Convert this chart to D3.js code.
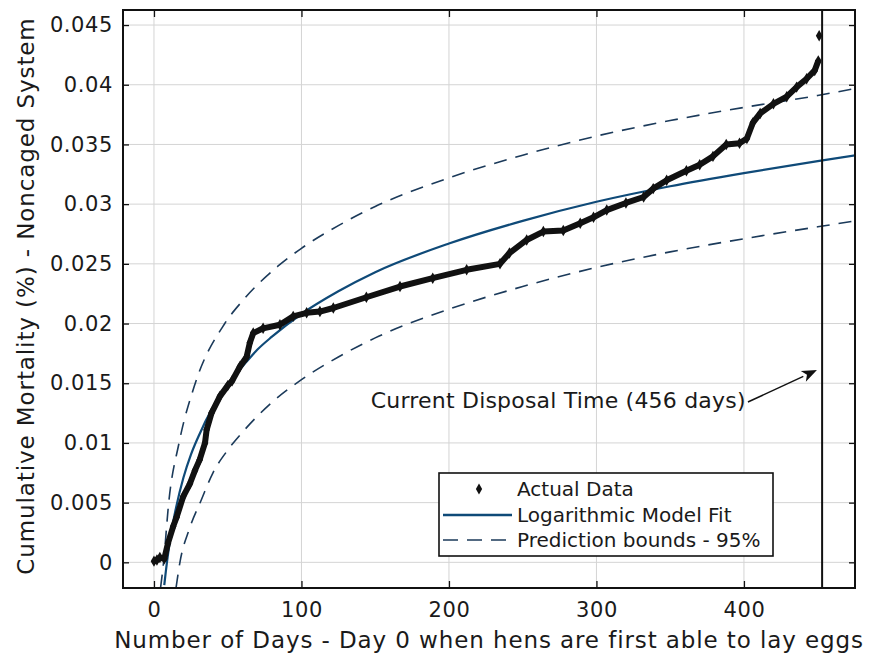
<!DOCTYPE html>
<html>
<head>
<meta charset="utf-8">
<script src="https://cdn.jsdelivr.net/npm/d3@7"></script>
<style>
  body { margin: 0; background: #fff; }
  svg text { font-family: 'DejaVu Sans', sans-serif; fill: #1a1a1a; }
</style>
</head>
<body>
<div id="chart"></div>
<script>
// cumulative mortality
const actualDays = [0, 2, 4, 7, 9.5, 13, 15.4, 19.8, 24.4, 27.8, 31, 34.6, 35.7, 39, 44.7, 50, 53, 58.3, 62.8, 65, 67.3, 74, 85.4, 94.4, 103.5, 112.5, 121.6, 144, 166.8, 189, 212, 234.6, 241, 252.7, 264, 277.5, 289, 298, 307, 320, 332, 338.5, 347.6, 361, 370, 379, 388, 397, 402, 406, 411, 420, 429, 435.7, 442.5, 448, 450.4, 451];
const actualVals = [0.0001, 0.0002, 0.0004, 0.0003, 0.0016, 0.003, 0.0038, 0.0055, 0.0066, 0.0077, 0.0086, 0.0100, 0.0111, 0.0125, 0.0139, 0.0148, 0.0152, 0.0164, 0.0172, 0.0184, 0.0192, 0.0196, 0.0199, 0.0206, 0.0209, 0.0210, 0.0213, 0.0222, 0.0231, 0.0238, 0.0245, 0.0250, 0.0259, 0.0270, 0.0277, 0.0278, 0.0284, 0.0289, 0.0295, 0.0301, 0.0306, 0.0313, 0.0320, 0.0328, 0.0333, 0.0340, 0.0350, 0.0351, 0.0355, 0.0368, 0.0376, 0.0384, 0.0390, 0.0398, 0.0405, 0.0412, 0.0420, 0.0441];

const fitDays = [7, 8, 10, 12, 15, 20, 25, 30, 40, 50, 60, 70, 80, 100, 125, 150, 200, 250, 300, 350, 400, 450, 476];
const fitVals = [-0.0019, -0.0008, 0.0011, 0.0027, 0.0046, 0.0071, 0.0090, 0.0105, 0.0130, 0.0149, 0.0164, 0.0178, 0.0189, 0.0208, 0.0227, 0.0243, 0.0267, 0.0286, 0.0302, 0.0315, 0.0326, 0.0336, 0.0341];

const upperDays = [4.5, 6.5, 10, 17, 28, 48, 60, 84, 100, 125, 150, 200, 250, 300, 350, 400, 450, 476];
const upperVals = [-0.0021, 0.0, 0.0050, 0.0100, 0.0150, 0.0200, 0.0219, 0.0248, 0.0263, 0.0282, 0.0298, 0.0322, 0.0341, 0.0357, 0.0370, 0.0381, 0.0391, 0.0397];

const lowerDays = [15, 17.6, 24, 32, 40, 50, 60, 80, 100, 125, 150, 200, 250, 300, 350, 400, 450, 476];
const lowerVals = [-0.0021, 0.0, 0.0028, 0.0052, 0.0075, 0.0094, 0.0109, 0.0134, 0.0153, 0.0172, 0.0188, 0.0212, 0.0231, 0.0247, 0.0260, 0.0271, 0.0281, 0.0286];

const xTicks = [0, 100, 200, 300, 400];
const yTicks = [0, 0.005, 0.01, 0.015, 0.02, 0.025, 0.03, 0.035, 0.04, 0.045];
const disposalDay = 453;
const noteText = 'Current Disposal Time (456 days)';
const noteAt = [147, 0.0129];
const arrowFrom = [402.7, 0.01343];
const arrowTo = [449.5, 0.0161];
const legendItems = ['Actual Data', 'Logarithmic Model Fit', 'Prediction bounds - 95%'];

const W = 871, H = 661;
const margin = { top: 10, right: 16, bottom: 73, left: 123 };
const fitColor = '#0f4a78';
const boundColor = '#1b3a5a';

const svg = d3.select('#chart').append('svg')
  .attr('width', W).attr('height', H);

const x = d3.scaleLinear().domain([-21, 475.3]).range([margin.left, W - margin.right]);
const y = d3.scaleLinear().domain([-0.00215, 0.04626]).range([H - margin.bottom, margin.top]);

const zip = (a, b) => a.map((d, i) => [d, b[i]]);

svg.append('defs').append('clipPath').attr('id', 'plot')
  .append('rect')
  .attr('x', margin.left).attr('y', margin.top)
  .attr('width', W - margin.left - margin.right)
  .attr('height', H - margin.top - margin.bottom);

// grid
svg.append('g').selectAll('line').data(xTicks).join('line')
  .attr('x1', d => x(d)).attr('x2', d => x(d))
  .attr('y1', margin.top).attr('y2', H - margin.bottom)
  .attr('stroke', '#d4d4d4').attr('stroke-width', 1);
svg.append('g').selectAll('line').data(yTicks).join('line')
  .attr('y1', d => y(d)).attr('y2', d => y(d))
  .attr('x1', margin.left).attr('x2', W - margin.right)
  .attr('stroke', '#d4d4d4').attr('stroke-width', 1);

// axes (inward ticks on all four sides)
const axisB = svg.append('g').attr('transform', `translate(0,${H - margin.bottom})`)
  .call(d3.axisBottom(x).tickValues(xTicks).tickSize(-7).tickPadding(14).tickFormat(d3.format('d')));
const axisT = svg.append('g').attr('transform', `translate(0,${margin.top})`)
  .call(d3.axisTop(x).tickValues(xTicks).tickSize(-7).tickFormat(''));
const axisL = svg.append('g').attr('transform', `translate(${margin.left},0)`)
  .call(d3.axisLeft(y).tickValues(yTicks).tickSize(-6).tickPadding(10).tickFormat(d => d === 0 ? '0' : String(+d.toFixed(3))));
const axisR = svg.append('g').attr('transform', `translate(${W - margin.right},0)`)
  .call(d3.axisRight(y).tickValues(yTicks).tickSize(-6).tickFormat(''));

[axisB, axisT, axisL, axisR].forEach(g => {
  g.select('.domain').remove();
  g.selectAll('.tick line').attr('stroke', '#111').attr('stroke-width', 1.3);
  g.selectAll('text').attr('font-size', 21).attr('letter-spacing', 0.6)
    .attr('font-family', "'DejaVu Sans', sans-serif").attr('fill', '#1a1a1a');
});

const plot = svg.append('g').attr('clip-path', 'url(#plot)');

const line = d3.line().x(d => x(d[0])).y(d => y(d[1])).curve(d3.curveMonotoneX);

// prediction bounds
[zip(upperDays, upperVals), zip(lowerDays, lowerVals)].forEach(pts => {
  plot.append('path').datum(pts)
    .attr('d', line)
    .attr('fill', 'none')
    .attr('stroke', boundColor)
    .attr('stroke-width', 1.6)
    .attr('stroke-dasharray', '13,9');
});

// logarithmic fit
plot.append('path').datum(zip(fitDays, fitVals))
  .attr('d', line)
  .attr('fill', 'none')
  .attr('stroke', fitColor)
  .attr('stroke-width', 2.2);

// actual data: dense diamonds drawn as a heavy band
const actual = zip(actualDays, actualVals);
plot.append('path').datum(actual.slice(0, -1))
  .attr('d', d3.line().x(d => x(d[0])).y(d => y(d[1])))
  .attr('fill', 'none')
  .attr('stroke', '#111')
  .attr('stroke-width', 6)
  .attr('stroke-linejoin', 'round');
plot.selectAll('.pt').data(actual).join('path')
  .attr('class', 'pt')
  .attr('transform', d => `translate(${x(d[0])},${y(d[1])})`)
  .attr('d', d3.symbol(d3.symbolDiamond, 38))
  .attr('fill', '#111');

// disposal time marker
svg.append('line')
  .attr('x1', x(disposalDay)).attr('x2', x(disposalDay))
  .attr('y1', margin.top).attr('y2', H - margin.bottom)
  .attr('stroke', '#111').attr('stroke-width', 2);

// frame
svg.append('rect')
  .attr('x', margin.left).attr('y', margin.top)
  .attr('width', W - margin.left - margin.right)
  .attr('height', H - margin.top - margin.bottom)
  .attr('fill', 'none').attr('stroke', '#111').attr('stroke-width', 2);

// annotation
svg.append('text')
  .attr('x', x(noteAt[0])).attr('y', y(noteAt[1]))
  .attr('font-size', 22).attr('letter-spacing', 0.2)
  .text(noteText);

const ax1 = x(arrowFrom[0]), ay1 = y(arrowFrom[1]);
const ax2 = x(arrowTo[0]), ay2 = y(arrowTo[1]);
const ang = Math.atan2(ay2 - ay1, ax2 - ax1);
const headLen = 15, headW = 6;
const bx = ax2 - headLen * Math.cos(ang), by = ay2 - headLen * Math.sin(ang);
svg.append('line')
  .attr('x1', ax1).attr('y1', ay1).attr('x2', bx).attr('y2', by)
  .attr('stroke', '#111').attr('stroke-width', 1.5);
svg.append('path')
  .attr('d', `M${ax2},${ay2}L${bx - headW * Math.sin(ang)},${by + headW * Math.cos(ang)}L${bx + 4 * Math.cos(ang)},${by + 4 * Math.sin(ang)}L${bx + headW * Math.sin(ang)},${by - headW * Math.cos(ang)}Z`)
  .attr('fill', '#111');

// legend
const lg = svg.append('g').attr('transform', 'translate(439,473)');
lg.append('rect').attr('width', 334).attr('height', 83)
  .attr('fill', '#fff').attr('stroke', '#111').attr('stroke-width', 1.6);
const rowY = [16, 42, 67];
lg.append('path')
  .attr('transform', `translate(40,${rowY[0]})`)
  .attr('d', d3.symbol(d3.symbolDiamond, 34))
  .attr('fill', '#111');
lg.append('line').attr('x1', 4).attr('x2', 73).attr('y1', rowY[1]).attr('y2', rowY[1])
  .attr('stroke', fitColor).attr('stroke-width', 2.4);
lg.append('line').attr('x1', 4).attr('x2', 73).attr('y1', rowY[2]).attr('y2', rowY[2])
  .attr('stroke', boundColor).attr('stroke-width', 1.6).attr('stroke-dasharray', '15,9');
lg.selectAll('.lbl').data(legendItems).join('text')
  .attr('class', 'lbl')
  .attr('x', 78).attr('y', (d, i) => rowY[i] + 7)
  .attr('font-size', 20)
  .text(d => d);

// axis titles
svg.append('text')
  .attr('x', 489).attr('y', 648)
  .attr('text-anchor', 'middle').attr('font-size', 23).attr('letter-spacing', 0.9)
  .text('Number of Days - Day 0 when hens are first able to lay eggs');
svg.append('text')
  .attr('transform', 'translate(34,296) rotate(-90)')
  .attr('text-anchor', 'middle').attr('font-size', 23).attr('letter-spacing', 0.9)
  .text('Cumulative Mortality (%) - Noncaged System');
</script>
</body>
</html>
